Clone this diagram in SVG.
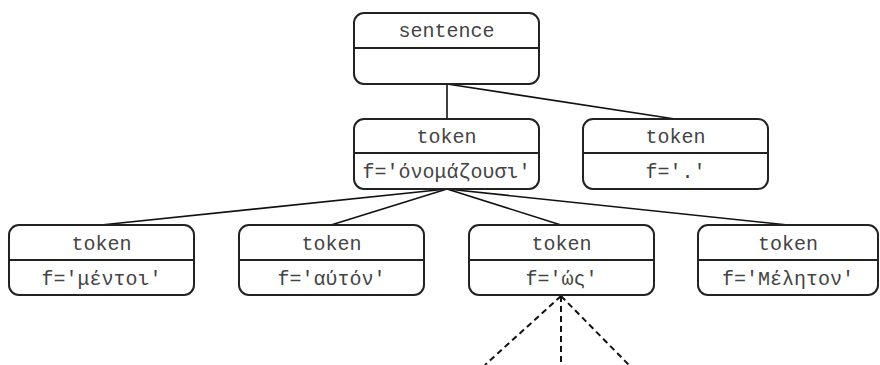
<svg xmlns="http://www.w3.org/2000/svg" width="880" height="365" viewBox="0 0 880 365">
  <style>
    .box { fill: #ffffff; stroke: #222222; stroke-width: 2; }
    .div { stroke: #222222; stroke-width: 2; }
    .lbl { font-family: "Liberation Mono", "DejaVu Sans Mono", monospace; font-size: 20px; fill: #444444; text-anchor: middle; }
    .edge { stroke: #111111; stroke-width: 1.6; fill: none; }
    .dash { stroke: #111111; stroke-width: 2; fill: none; stroke-dasharray: 6 4; }
  </style>
  <rect width="880" height="365" fill="#ffffff"/>

  <g id="connectors">
    <line class="edge" x1="447" y1="84" x2="447" y2="119"/>
    <line class="edge" x1="447" y1="84" x2="675" y2="119"/>
    <line class="edge" x1="447" y1="189" x2="101" y2="225"/>
    <line class="edge" x1="447" y1="189" x2="331" y2="225"/>
    <line class="edge" x1="447" y1="189" x2="561" y2="225"/>
    <line class="edge" x1="447" y1="189" x2="788" y2="225"/>
    <line class="dash" x1="561" y1="296" x2="485" y2="365"/>
    <line class="dash" x1="561" y1="296" x2="561" y2="365"/>
    <line class="dash" x1="561" y1="296" x2="629" y2="365"/>
  </g>

  <g id="sentence">
    <rect class="box" x="354" y="13" width="185" height="71" rx="10"/>
    <line class="div" x1="354" y1="48" x2="539" y2="48"/>
    <text class="lbl" x="446.5" y="37">sentence</text>
  </g>

  <g id="token-onomazousi">
    <rect class="box" x="354" y="119" width="185" height="70" rx="10"/>
    <line class="div" x1="354" y1="153" x2="539" y2="153"/>
    <text class="lbl" x="446.5" y="143">token</text>
    <text class="lbl" x="446.5" y="178">f='όνομάζουσι'</text>
  </g>

  <g id="token-period">
    <rect class="box" x="583" y="119" width="185" height="70" rx="10"/>
    <line class="div" x1="583" y1="153" x2="768" y2="153"/>
    <text class="lbl" x="675.5" y="143">token</text>
    <text class="lbl" x="675.5" y="178">f='.'</text>
  </g>

  <g id="token-mentoi">
    <rect class="box" x="9" y="225" width="185" height="70" rx="10"/>
    <line class="div" x1="9" y1="260" x2="194" y2="260"/>
    <text class="lbl" x="101.5" y="250">token</text>
    <text class="lbl" x="101.5" y="285">f='μέντοι'</text>
  </g>

  <g id="token-auton">
    <rect class="box" x="239" y="225" width="185" height="70" rx="10"/>
    <line class="div" x1="239" y1="260" x2="424" y2="260"/>
    <text class="lbl" x="331.5" y="250">token</text>
    <text class="lbl" x="331.5" y="285">f='αύτόν'</text>
  </g>

  <g id="token-hos">
    <rect class="box" x="469" y="225" width="185" height="70" rx="10"/>
    <line class="div" x1="469" y1="260" x2="654" y2="260"/>
    <text class="lbl" x="561.5" y="250">token</text>
    <text class="lbl" x="561.5" y="285">f='ώς'</text>
  </g>

  <g id="token-meleton">
    <rect class="box" x="698" y="225" width="180" height="70" rx="10"/>
    <line class="div" x1="698" y1="260" x2="878" y2="260"/>
    <text class="lbl" x="788" y="250">token</text>
    <text class="lbl" x="788" y="285">f='Μέλητον'</text>
  </g>
</svg>
